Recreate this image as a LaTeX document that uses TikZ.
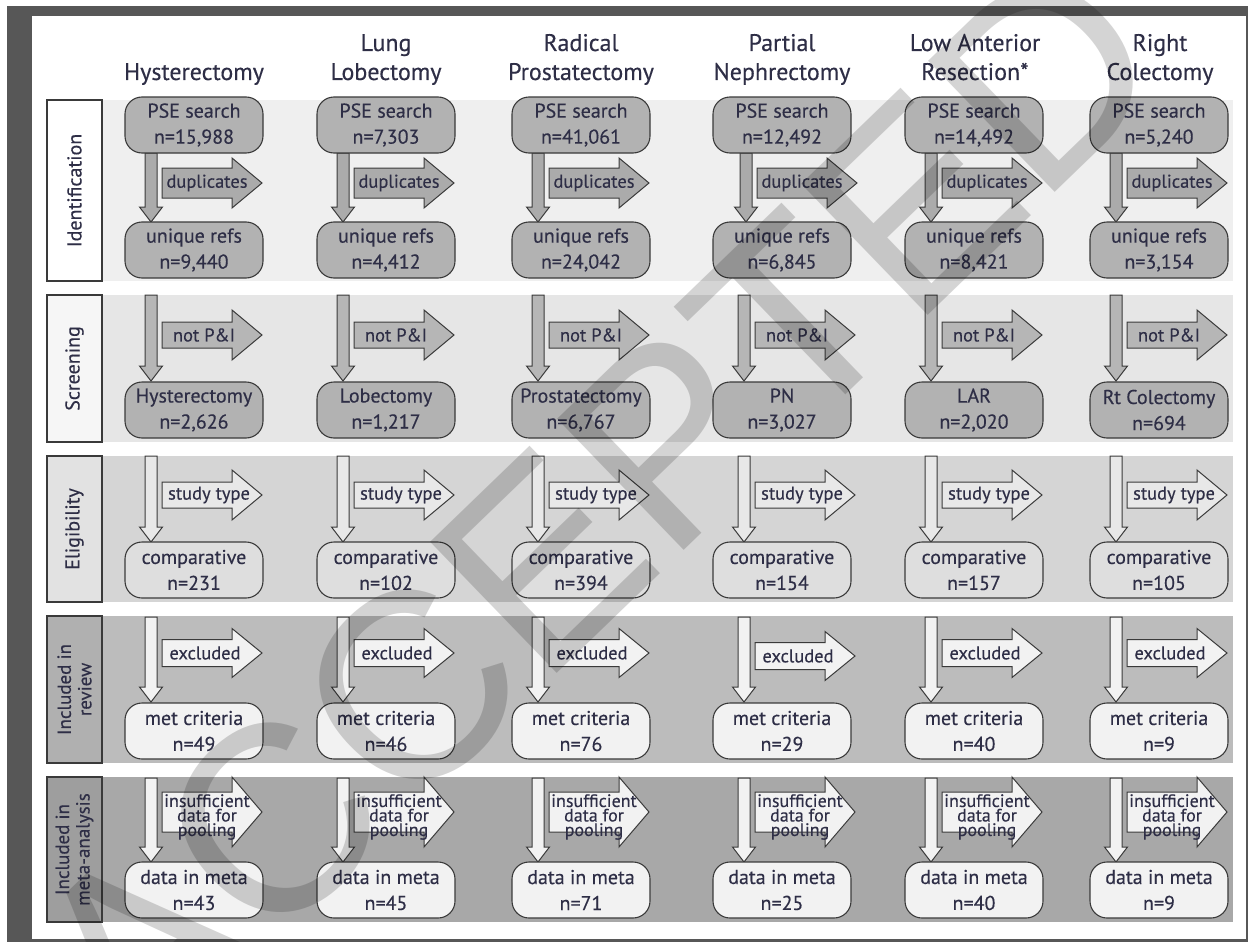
\documentclass[tikz,border=0pt]{standalone}
\usepackage{fontspec}
\setmainfont{PT Sans}[FakeBold=0.3]
\newfontfamily\wmfont{Liberation Sans}
\definecolor{txt}{HTML}{2E2E46}
\definecolor{pagedark}{HTML}{575757}
\definecolor{lineg}{HTML}{3A3A3A}
\definecolor{bandA}{HTML}{EFEFEF}
\definecolor{bandB}{HTML}{E6E6E6}
\definecolor{bandC}{HTML}{D5D5D5}
\definecolor{bandD}{HTML}{BCBCBC}
\definecolor{bandE}{HTML}{A8A8A8}
\definecolor{labA}{HTML}{FFFFFF}
\definecolor{labB}{HTML}{F6F6F6}
\definecolor{labC}{HTML}{E2E2E2}
\definecolor{labD}{HTML}{B0B0B0}
\definecolor{labE}{HTML}{9E9E9E}
\definecolor{boxdark}{HTML}{B2B2B2}
\definecolor{arrdark}{HTML}{ABABAB}
\definecolor{arrmid}{HTML}{B6B6B6}
\definecolor{boxlight}{HTML}{DEDEDE}
\definecolor{arrlight}{HTML}{E8E8E8}
\definecolor{boxpale}{HTML}{F2F2F2}
\newcommand\boxfont{\fontsize{20}{26}\selectfont}
\newcommand\hdfont{\fontsize{24}{29}\selectfont}
\newcommand\arrfont{\fontsize{18.5}{20}\selectfont}
\newcommand\smallarrfont{\fontsize{18}{14.5}\selectfont}
\newcommand\labfont{\fontsize{20}{21}\selectfont}
\newcommand\labtwofont{\fontsize{19}{20.5}\selectfont}
\tikzset{
  outl/.style={draw=lineg, line width=1.1pt},
  flowbox/.style={outl, rounded corners=17pt, minimum width=138pt, minimum height=56pt,
     inner sep=0pt, align=center, font=\boxfont, text=txt},
  arrshape/.style={draw=lineg, line width=1pt, line join=miter},
  arrtxt/.style={font=\arrfont, text=txt, inner sep=0pt, align=center},
  hdtxt/.style={font=\hdfont, text=txt, inner sep=0pt, anchor=base},
  labtxt/.style={font=\labfont, text=txt, inner sep=0pt, align=center, rotate=90},
  labbox/.style={draw=lineg, line width=1.2pt}
}
% down arrow: x-centre, y-top, y-tip, fill
\newcommand\downarr[4]{\draw[arrshape, fill=#4] (#1-6,#2) -- (#1+6,#2) -- (#1+6,#3-15) -- (#1+11.5,#3-15) -- (#1,#3) -- (#1-11.5,#3-15) -- (#1-6,#3-15) -- cycle;}
% right arrow: x-left, y-centre, body half, head half, fill
\newcommand\rightarr[5]{\draw[arrshape, fill=#5] (#1,#2-#3) -- (#1+70,#2-#3) -- (#1+70,#2-#4) -- (#1+100,#2) -- (#1+70,#2+#4) -- (#1+70,#2+#3) -- (#1,#2+#3) -- cycle;}
\def\dx{0}
\def\dxa{0}
\def\dya{0}
% one column: name, cx, pse, unique, screen label, screen n, comp n, met n, meta n
\newcommand\flowcol[9]{%
  \downarr{#2+\dxa-43}{153}{222}{arrdark}
  \rightarr{#2+\dxa-32}{183}{15}{25}{arrdark}
  \downarr{#2+\dx-43}{295}{381}{arrmid}
  \rightarr{#2+\dx-32}{335}{13}{25}{arrmid}
  \downarr{#2+\dx-43}{456}{542}{arrlight}
  \rightarr{#2+\dx-32}{495}{13}{25}{arrlight}
  \downarr{#2+\dx-43}{617}{702}{boxpale}
  \rightarr{#2+\dx-32}{653+\dya}{13.5}{24.5}{boxpale}
  \downarr{#2+\dx-43}{778}{862}{boxpale}
  \rightarr{#2+\dx-32}{812}{20}{35}{boxpale}
  \node[flowbox, fill=boxdark] (#1-pse) at (#2,125) {PSE search\\n=#3};
  \node[flowbox, fill=boxdark] (#1-uni) at (#2,250) {unique refs\\n=#4};
  \node[flowbox, fill=boxdark] (#1-scr) at (#2,410) {#5\\n=#6};
  \node[flowbox, fill=boxlight] (#1-cmp) at (#2,570) {comparative\\n=#7};
  \node[flowbox, fill=boxpale] (#1-met) at (#2,731) {met criteria\\n=#8};
  \node[flowbox, fill=boxpale] (#1-dat) at (#2,890) {data in meta\\n=#9};
  \node[arrtxt] (#1-dup) at (#2+\dxa+13,183) {duplicates};
  \node[arrtxt] (#1-npi) at (#2+\dx+10,335) {not P\&I};
  \node[arrtxt] (#1-sty) at (#2+\dx+15,495) {study type};
  \node[arrtxt] (#1-exc) at (#2+\dx+11,653+\dya) {excluded};
  \node[arrtxt, font=\smallarrfont] (#1-ins) at (#2+\dx+13,817) {insufficient\\data for\\pooling};
}
\begin{document}
\begin{tikzpicture}[x=1pt,y=-1pt]
\useasboundingbox (0,0) rectangle (1248,942);
\fill[white] (0,0) rectangle (1248,942);
\fill[pagedark] (7,6) rectangle (1248,942);
\fill[white] (32,16) rectangle (1246,939);
% bands and stage labels
\fill[bandA] (102,100) rectangle (1233,281);
\fill[bandB] (102,295) rectangle (1233,442);
\fill[bandC] (102,456) rectangle (1233,602);
\fill[bandD] (102,616) rectangle (1233,763);
\fill[bandE] (102,777) rectangle (1233,922);
\draw[labbox, fill=labA] (47,100) rectangle (102,281);
\draw[labbox, fill=labB] (47,295) rectangle (102,442);
\draw[labbox, fill=labC] (47,456) rectangle (102,602);
\draw[labbox, fill=labD] (47,616) rectangle (102,763);
\draw[labbox, fill=labE] (47,777) rectangle (102,922);
\node[labtxt] (lab1) at (74.5,190.5) {Identification};
\node[labtxt] (lab2) at (74.5,368.5) {Screening};
\node[labtxt] (lab3) at (74.5,529) {Eligibility};
\node[labtxt, font=\labtwofont] (lab4) at (74.5,689.5) {Included in\\review};
\node[labtxt, font=\labtwofont] (lab5) at (74.5,849.5) {Included in\\meta-analysis};
% headers
\node[hdtxt] (h1b) at (194,80) {Hysterectomy};
\node[hdtxt] (h2a) at (386,51) {Lung};
\node[hdtxt] (h2b) at (386,80) {Lobectomy};
\node[hdtxt] (h3a) at (581,51) {Radical};
\node[hdtxt] (h3b) at (581,80) {Prostatectomy};
\node[hdtxt] (h4a) at (782,51) {Partial};
\node[hdtxt] (h4b) at (782,80) {Nephrectomy};
\node[hdtxt] (h5a) at (975,51) {Low Anterior};
\node[hdtxt] (h5b) at (975,80) {Resection*};
\node[hdtxt] (h6a) at (1160,51) {Right};
\node[hdtxt] (h6b) at (1160,80) {Colectomy};
% columns
\flowcol{c1}{194}{15,988}{9,440}{Hysterectomy}{2,626}{231}{49}{43}
\flowcol{c2}{386}{7,303}{4,412}{Lobectomy}{1,217}{102}{46}{45}
\flowcol{c3}{581}{41,061}{24,042}{Prostatectomy}{6,767}{394}{76}{71}
\def\dx{5}\def\dxa{7}\def\dya{3}
\flowcol{c4}{782}{12,492}{6,845}{PN}{3,027}{154}{29}{25}
\def\dx{0}\def\dxa{0}\def\dya{0}
\flowcol{c5}{974}{14,492}{8,421}{LAR}{2,020}{157}{40}{40}
\flowcol{c6}{1159}{5,240}{3,154}{Rt Colectomy}{694}{105}{9}{9}
% watermark
\node[rotate=44, text=black, opacity=0.17, inner sep=0pt,
  font=\wmfont\fontsize{265}{265}\selectfont] (wm) at (595,510) {ACCEPTED};
\end{tikzpicture}
\end{document}
